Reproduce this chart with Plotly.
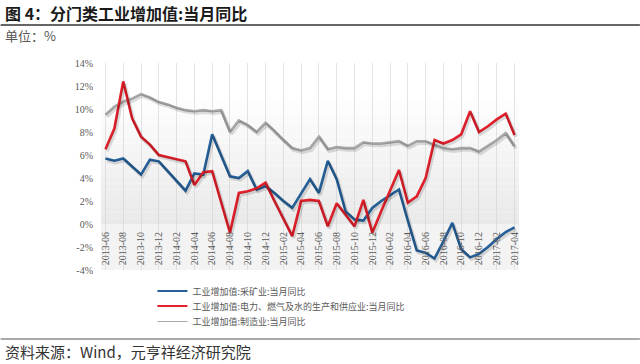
import plotly.graph_objects as go

months = [
    "2013-06","2013-07","2013-08","2013-09","2013-10","2013-11","2013-12",
    "2014-01","2014-02","2014-03","2014-04","2014-05","2014-06","2014-07","2014-08","2014-09","2014-10","2014-11","2014-12",
    "2015-01","2015-02","2015-03","2015-04","2015-05","2015-06","2015-07","2015-08","2015-09","2015-10","2015-11","2015-12",
    "2016-01","2016-02","2016-03","2016-04","2016-05","2016-06","2016-07","2016-08","2016-09","2016-10","2016-11","2016-12",
    "2017-01","2017-02","2017-03","2017-04",
]
tick_labels = months[::2]

mining = [5.7, 5.5, 5.7, 5.0, 4.3, 5.6, 5.45, 4.6, 3.7, 2.9, 4.4, 4.3, 7.8, 6.0, 4.15, 4.0, 4.6, 3.0, 3.3,
          2.7, 2.0, 1.4, 2.6, 3.9, 2.7, 5.5, 3.9, 1.1, 0.4, 0.3, 1.4, 2.0, 2.5, 3.0, 0.3, -2.3, -2.5,
          -3.0, -1.5, 0.1, -2.2, -2.9, -2.6, -2.0, -1.3, -0.7, -0.3]
utilities = [6.5, 8.3, 12.4, 9.2, 7.6, 6.9, 6.0, 5.8, 5.6, 5.45, 3.4, 4.5, 4.6, 2.0, -0.75, 2.7, 2.85, 3.1, 3.6,
             2.0, 0.5, -1.05, 2.0, 2.1, 2.0, -0.2, 1.8, 0.8, -0.2, 2.1, -0.75, 1.1, 2.9, 4.7, 1.85, 2.4, 4.0,
             7.3, 7.0, 7.3, 7.8, 9.8, 8.0, 8.5, 9.1, 9.6, 7.75]
manufacturing = [9.5, 10.2, 10.65, 10.9, 11.3, 11.0, 10.6, 10.4, 10.1, 9.9, 9.8, 9.9, 9.8, 9.9, 8.0, 9.0, 8.6, 8.0, 8.8,
                 8.1, 7.3, 6.6, 6.4, 6.6, 7.6, 6.5, 6.7, 6.6, 6.6, 7.1, 7.0, 7.0, 7.1, 7.2, 6.8, 7.2, 7.2,
                 6.9, 6.6, 6.5, 6.6, 6.6, 6.3, 6.8, 7.3, 7.9, 6.75]

names = ["工业增加值:采矿业:当月同比",
         "工业增加值:电力、燃气及水的生产和供应业:当月同比",
         "工业增加值:制造业:当月同比"]
colors = ["#25609a", "#e3202b", "#a8a8a8"]
legend_widths = [2.2, 2.2, 1.0]
series = [mining, utilities, manufacturing]

y_ticks = [-4, -2, 0, 2, 4, 6, 8, 10, 12, 14]
y_tick_text = [f"{v}%" for v in y_ticks]

# layout geometry (pixels)
W, H = 640, 364
L, R, T, B = 100.5, 121, 63, 94
pw, ph = W - L - R, H - T - B
def px(x):
    return (x - L) / pw
def py(y):
    return (H - B - y) / ph

fig = go.Figure()

# shadows on overlay axes (slightly shifted)
dx = 1.5 / (pw / 47)
dy = 2.0 * 18 / ph
for s in [2, 0, 1]:
    fig.add_trace(go.Scatter(x=months, y=series[s], mode="lines", xaxis="x2", yaxis="y2",
                             line=dict(color="rgba(0,0,0,0.13)", width=3.5), showlegend=False,
                             hoverinfo="skip"))

for s in [2, 0, 1]:
    fig.add_trace(go.Scatter(x=months, y=series[s], mode="lines", name=names[s],
                             line=dict(color=colors[s], width=2.6), showlegend=False))

# legend entries (no marks), one legend per row
legend_ids = ["legend", "legend2", "legend3"]
for s in [0, 1, 2]:
    fig.add_trace(go.Scatter(x=[None], y=[None], mode="lines", name=names[s],
                             line=dict(color=colors[s], width=legend_widths[s]), legend=legend_ids[s]))

shapes = []
# gradient background above zero
n = 28
for k in range(n):
    y0 = 14 * k / n
    y1 = 14 * (k + 1) / n
    t = k / (n - 1)
    c = int(233 + (255 - 233) * min(1, t * 1.25))
    shapes.append(dict(type="rect", xref="x domain", yref="y", x0=0, x1=1, y0=y0, y1=y1,
                       fillcolor=f"rgb({c},{c},{c})", line=dict(width=0), layer="below"))
shapes.append(dict(type="rect", xref="x domain", yref="y", x0=0, x1=1, y0=-4, y1=0,
                   fillcolor="rgb(243,243,243)", line=dict(width=0), layer="below"))
# title underline and footer line
shapes.append(dict(type="line", xref="paper", yref="paper", x0=px(0), x1=px(640), y0=py(25), y1=py(25),
                   line=dict(color="#333333", width=1.5)))
shapes.append(dict(type="line", xref="paper", yref="paper", x0=px(0), x1=px(640), y0=py(339), y1=py(339),
                   line=dict(color="#555555", width=1.2)))

annotations = [
    dict(text="<b>图 4：分门类工业增加值:当月同比</b>", xref="paper", yref="paper", x=px(2), y=py(13),
         xanchor="left", yanchor="middle", showarrow=False,
         font=dict(family="Noto Sans CJK SC", size=16, color="#1a1a1a")),
    dict(text="单位：%", xref="paper", yref="paper", x=px(2), y=py(35),
         xanchor="left", yanchor="middle", showarrow=False,
         font=dict(family="Noto Sans CJK SC", size=13, color="#555555")),
    dict(text="资料来源：Wind，元亨祥经济研究院", xref="paper", yref="paper", x=px(2), y=py(351),
         xanchor="left", yanchor="middle", showarrow=False,
         font=dict(family="Noto Sans CJK SC", size=15, color="#333333")),
]

leg_font = dict(family="Noto Sans CJK SC", size=9, color="#595959")
def leg(yc):
    return dict(x=px(152), y=py(yc), xanchor="left", yanchor="middle", font=leg_font,
                bgcolor="rgba(0,0,0,0)", itemwidth=30, borderwidth=0)

fig.update_layout(
    width=W, height=H,
    margin=dict(l=L, r=R, t=T, b=B, pad=0, autoexpand=False),
    paper_bgcolor="white", plot_bgcolor="white",
    shapes=shapes, annotations=annotations,
    showlegend=True,
    legend=leg(291), legend2=leg(306), legend3=leg(321.5),
    xaxis=dict(type="category", categoryorder="array", categoryarray=months,
               range=[-0.5, 46.5], anchor="free", position=4 / 18, automargin=False,
               tickmode="array", tickvals=tick_labels, ticktext=tick_labels, tickangle=-90,
               tickfont=dict(family="Liberation Serif", size=10, color="#595959"),
               ticklabelstandoff=5,
               showgrid=True, gridcolor="rgba(205,205,205,0.55)", gridwidth=1,
               showline=False, zeroline=False, ticks=""),
    yaxis=dict(range=[-4, 14], tickmode="array", tickvals=y_ticks, ticktext=y_tick_text,
               tickfont=dict(family="Liberation Serif", size=10, color="#595959"),
               ticklabelstandoff=7, automargin=False,
               showgrid=False, zeroline=False, showline=False, ticks=""),
    xaxis2=dict(type="category", categoryorder="array", categoryarray=months,
                range=[-0.5 - dx, 46.5 - dx], overlaying="x", visible=False, anchor="y2"),
    yaxis2=dict(range=[-4 + dy, 14 + dy], overlaying="y", visible=False, anchor="x2"),
)

fig.write_html("out.html", config={"displayModeBar": False},
               post_script="document.body.style.margin='0px';document.body.style.overflow='hidden';")
